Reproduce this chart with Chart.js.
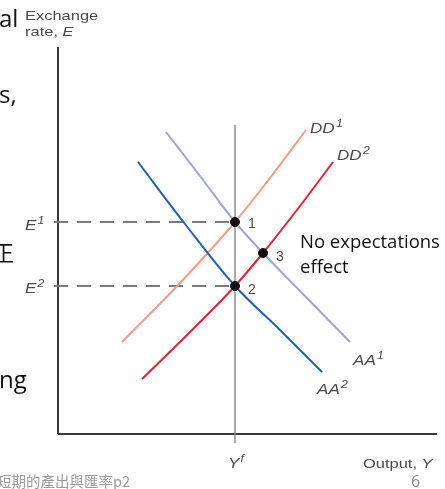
<html>
<head>
<meta charset="utf-8"/>
<style>
  body { margin: 0; background: #fff; }
  #wrap { width: 445px; height: 489px; }
</style>
</head>
<body>
<div id="wrap">
  <canvas id="myChart" width="445" height="489"></canvas>
</div>
<script src="https://cdn.jsdelivr.net/npm/chart.js"></script>
<script>
  // model units: output Y on x, exchange rate E on y
  var yFull = 177;
  var e1 = 212;
  var e2 = 148;

  var aa1_x = [108, 142, 177, 205, 242, 292];
  var aa1_y = [302, 258, 212, 181, 143, 92];
  var aa2_x = [80, 127, 177, 222, 264];
  var aa2_y = [272, 210, 148, 104, 62];
  var dd1_x = [64, 122, 177, 212, 248];
  var dd1_y = [92, 151, 212, 256, 304];
  var dd2_x = [84, 132, 177, 205, 242, 275];
  var dd2_y = [55, 102, 148, 181, 228, 272];

  // equilibria 1, 2, 3
  var eq_x = [177, 177, 205];
  var eq_y = [212, 148, 181];

  function pts(xs, ys) {
    var out = [];
    for (var i = 0; i < xs.length; i++) out.push({ x: xs[i], y: ys[i] });
    return out;
  }

  function curve(label, xs, ys, color) {
    return {
      label: label,
      data: pts(xs, ys),
      borderColor: color,
      borderWidth: 2,
      pointRadius: 0,
      fill: false,
      cubicInterpolationMode: "monotone",
    };
  }

  function straight(data, color, width, dash) {
    return {
      data: data,
      borderColor: color,
      borderWidth: width,
      borderDash: dash || [],
      pointRadius: 0,
      fill: false,
      clip: false,
    };
  }

  // figure text looks a bit wide in the original, so stretch it horizontally
  var SX = 1.22;

  function wide(ctx, parts, x, y) {
    // parts: [text, font, dy]
    ctx.save();
    ctx.translate(x, y);
    ctx.scale(SX, 1);
    var cx = 0;
    parts.forEach(function (p) {
      ctx.font = p[1];
      ctx.fillText(p[0], cx, p[2] || 0);
      cx += ctx.measureText(p[0]).width + (p[3] || 0);
    });
    ctx.restore();
  }

  function sup(ctx, base, s, x, y, size) {
    var f1 = "italic " + size + "px 'Liberation Sans'";
    var f2 = "italic " + Math.round(size * 0.68) + "px 'Liberation Sans'";
    wide(ctx, [[base, f1, 0, 1], [s, f2, -size * 0.42]], x, y);
  }

  var labelsPlugin = {
    id: "labels",
    afterDraw: function (chart) {
      var ctx = chart.ctx;
      ctx.save();
      ctx.textBaseline = "alphabetic";
      ctx.textAlign = "left";

      // slide fragments left of the figure
      ctx.fillStyle = "#111";
      ctx.font = "24px 'Open Sans'";
      ctx.fillText("al", -1, 27);
      ctx.fillText("s,", -1, 103);
      ctx.fillText("ng", -1, 388);
      ctx.font = "22px 'Noto Sans CJK TC'";
      ctx.fillText("正", -8, 261);

      // axis titles
      ctx.fillStyle = "#4a4a4a";
      var reg = "13.5px 'Liberation Sans'";
      var ita = "italic 13.5px 'Liberation Sans'";
      wide(ctx, [["Exchange", reg]], 25, 20);
      wide(ctx, [["rate, ", reg], ["E", ita]], 25, 36);
      wide(ctx, [["Output, ", reg], ["Y", ita]], 363, 468);

      sup(ctx, "E", "1", 25, 230, 14);
      sup(ctx, "E", "2", 25, 293, 14);
      sup(ctx, "Y", "f", 228, 468, 14);

      sup(ctx, "DD", "1", 310, 133, 14);
      sup(ctx, "DD", "2", 337, 160, 14);
      sup(ctx, "AA", "1", 353, 365, 14);
      sup(ctx, "AA", "2", 317, 394, 14);

      ctx.font = "14px 'Liberation Sans'";
      ctx.fillText("1", 248, 228);
      ctx.fillText("3", 276, 261);
      ctx.fillText("2", 248, 294);

      ctx.fillStyle = "#111";
      ctx.font = "18.5px 'Open Sans'";
      ctx.fillText("No expectations", 300, 248);
      ctx.fillText("effect", 300, 273);

      // footer
      ctx.fillStyle = "#9a9a9a";
      ctx.font = "14.5px 'Noto Sans CJK TC'";
      ctx.fillText("短期的產出與匯率p2", -3, 487);
      ctx.fillStyle = "#8a8a8a";
      ctx.font = "16px 'Open Sans'";
      ctx.fillText("6", 411, 487);
      ctx.restore();
    },
  };

  var ctx = document.getElementById("myChart");
  var myChart = new Chart(ctx, {
    type: "scatter",
    data: {
      datasets: [
        {
          label: "equilibria",
          data: pts(eq_x, eq_y),
          backgroundColor: "#111",
          borderColor: "#111",
          pointRadius: 4.5,
          showLine: false,
        },
        curve("AA1", aa1_x, aa1_y, "#9ea2da"),
        curve("AA2", aa2_x, aa2_y, "#1f5fb8"),
        curve("DD1", dd1_x, dd1_y, "#f59a84"),
        curve("DD2", dd2_x, dd2_y, "#e8202e"),
        straight([{ x: -4, y: e1 }, { x: yFull, y: e1 }], "#7a7a7a", 2, [14, 9]),
        straight([{ x: -4, y: e2 }, { x: yFull, y: e2 }], "#7a7a7a", 2, [14, 9]),
        straight([{ x: yFull, y: -9 }, { x: yFull, y: 309 }], "#8c8c8c", 1.5),
        straight([{ x: 0, y: 0 }, { x: 0, y: 387 }], "#3a3a3a", 2),
        straight([{ x: 0, y: 0 }, { x: 379, y: 0 }], "#3a3a3a", 2),
      ],
    },
    options: {
      responsive: false,
      animation: false,
      showLine: true,
      layout: {
        padding: { left: 58, top: 45, right: 8, bottom: 55 },
      },
      scales: {
        x: { type: "linear", min: 0, max: 379, display: false },
        y: { type: "linear", min: 0, max: 389, display: false },
      },
      plugins: {
        legend: { display: false },
        tooltip: { enabled: false },
      },
    },
    plugins: [labelsPlugin],
  });
</script>
</body>
</html>
